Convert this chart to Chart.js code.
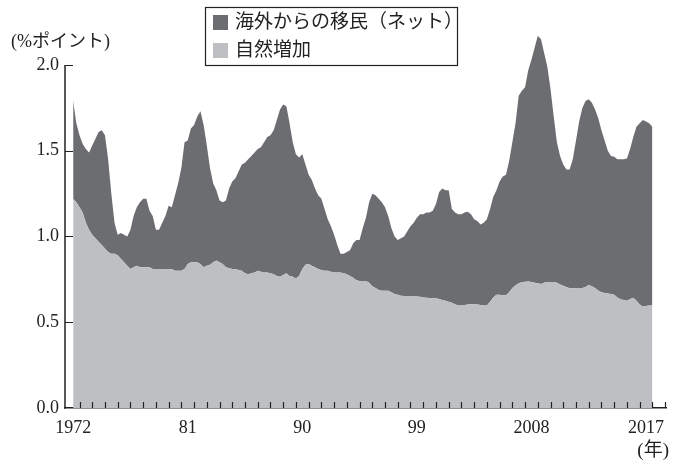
<!DOCTYPE html>
<html>
<head>
<meta charset="utf-8">
<script src="https://cdn.jsdelivr.net/npm/chart.js@4/dist/chart.umd.min.js"></script>
<style>
  html, body { margin: 0; background: #fff; }
  #wrap { width: 673px; height: 464px; position: relative; }
</style>
</head>
<body>
<div id="wrap"><canvas id="mycanvas"></canvas></div>
<script>
// quarterly, 1972 Q1 .. 2017 Q3 (% points)
var naturalIncrease = [
  1.22, 1.20, 1.17, 1.14,  1.08, 1.04, 1.01, 0.99,  0.97, 0.95, 0.93, 0.91,
  0.90, 0.90, 0.89, 0.87,  0.85, 0.83, 0.81, 0.82,  0.83, 0.82, 0.82, 0.82,
  0.82, 0.81, 0.81, 0.81,  0.81, 0.81, 0.81, 0.81,  0.80, 0.80, 0.80, 0.81,
  0.84, 0.85, 0.85, 0.85,  0.84, 0.82, 0.83, 0.835, 0.85, 0.86, 0.85, 0.84,
  0.82, 0.815, 0.81, 0.81, 0.805, 0.80, 0.785, 0.78, 0.785, 0.79, 0.80, 0.795,
  0.79, 0.79, 0.785, 0.78, 0.77, 0.765, 0.775, 0.785, 0.77, 0.765, 0.755, 0.77,
  0.81, 0.835, 0.84, 0.83, 0.82, 0.81, 0.805, 0.80, 0.80, 0.795, 0.79, 0.79,
  0.79, 0.785, 0.78, 0.77, 0.76, 0.745, 0.74, 0.74, 0.74, 0.73, 0.71, 0.70,
  0.69, 0.684, 0.684, 0.684, 0.675, 0.665, 0.66, 0.655, 0.653, 0.653, 0.653, 0.652,
  0.65, 0.648, 0.645, 0.643, 0.642, 0.64, 0.64, 0.635, 0.63, 0.626, 0.62, 0.614,
  0.605, 0.597, 0.598, 0.60, 0.603, 0.605, 0.606, 0.603, 0.60, 0.598, 0.597, 0.62,
  0.645, 0.66, 0.66, 0.658, 0.657, 0.675, 0.70, 0.715, 0.727, 0.733, 0.736, 0.737,
  0.735, 0.73, 0.727, 0.723, 0.73, 0.735, 0.735, 0.735, 0.73, 0.72, 0.713, 0.705,
  0.698, 0.698, 0.698, 0.70, 0.70, 0.705, 0.717, 0.71, 0.70, 0.685, 0.675, 0.67,
  0.668, 0.664, 0.66, 0.645, 0.634, 0.63, 0.626, 0.635, 0.643, 0.625, 0.605, 0.59,
  0.595, 0.597, 0.597
];
// natural increase + net overseas migration (top of the dark band)
var totalGrowth = [
  1.79, 1.66, 1.59, 1.54,  1.51, 1.49, 1.53, 1.57,  1.61, 1.62, 1.59, 1.45,
  1.25, 1.08, 1.01, 1.02,  1.01, 1.00, 1.04, 1.12,  1.17, 1.20, 1.22, 1.22,
  1.15, 1.12, 1.04, 1.04,  1.08, 1.12, 1.18, 1.17,  1.24, 1.31, 1.40, 1.55,
  1.56, 1.63, 1.65, 1.70,  1.73, 1.65, 1.53, 1.40,  1.31, 1.27, 1.21, 1.20,
  1.21, 1.28, 1.32, 1.34,  1.38, 1.42, 1.43, 1.45,  1.47, 1.49, 1.51, 1.52,
  1.55, 1.58, 1.59, 1.62,  1.68, 1.74, 1.77, 1.76,  1.66, 1.55, 1.48, 1.46,
  1.48, 1.42, 1.36, 1.33,  1.28, 1.24, 1.22, 1.16,  1.10, 1.06, 1.01, 0.95,
  0.90, 0.90, 0.91, 0.92,  0.96, 0.98, 0.98, 1.05,  1.11, 1.20, 1.25, 1.24,
  1.22, 1.20, 1.17, 1.12,  1.05, 1.00, 0.98, 0.99,  1.00, 1.03, 1.06, 1.08,
  1.11, 1.13, 1.13, 1.14,  1.14, 1.15, 1.19, 1.26,  1.28, 1.27, 1.27, 1.16,
  1.14, 1.13, 1.13, 1.14,  1.145, 1.13, 1.10, 1.09, 1.07, 1.08, 1.10, 1.16,
  1.23, 1.27, 1.32, 1.35,  1.36, 1.44, 1.55, 1.66,  1.82, 1.85, 1.87, 1.97,
  2.03, 2.10, 2.17, 2.15,  2.07, 1.99, 1.86, 1.70,  1.55, 1.47, 1.42, 1.39,
  1.39, 1.45, 1.56, 1.67,  1.75, 1.79, 1.80, 1.78,  1.74, 1.69, 1.62, 1.56,
  1.50, 1.47, 1.465, 1.45, 1.45, 1.45, 1.455, 1.51, 1.58, 1.64, 1.66, 1.68,
  1.67, 1.66, 1.64
];
var tickYears = [1972, 1981, 1990, 1999, 2008, 2017];
var tickLabels = ['1972', '81', '90', '99', '2008', '2017'];
var yTicks = [0, 0.5, 1.0, 1.5, 2.0];
var seriesNames = ['自然増加', '海外からの移民（ネット）'];
var seriesColors = ['#bebfc3', '#6c6d71'];

var quarterYears = [];
for (var i = 0; i < naturalIncrease.length; i++) {
  quarterYears.push(1972 + i / 4);
}

var serif = "'Liberation Serif', 'Noto Sans CJK JP', serif";
var ink = '#222';

// y axis line (only up to 2.0), inward ticks, unit labels and the boxed legend
var decor = {
  id: 'decor',
  afterDraw: function(chart) {
    var ctx = chart.ctx;
    var xs = chart.scales.x, ys = chart.scales.y;
    var area = chart.chartArea;
    var top = ys.getPixelForValue(yTicks[yTicks.length - 1]);
    ctx.save();
    ctx.strokeStyle = ink;
    ctx.lineWidth = 1.5;
    ctx.beginPath();
    ctx.moveTo(area.left, area.bottom + 0.75);
    ctx.lineTo(area.left, top);
    ctx.stroke();

    ctx.lineWidth = 1.2;
    ctx.beginPath();
    for (var yr = 1972.5; yr <= xs.max; yr += 1) {
      var px = Math.round(xs.getPixelForValue(yr)) + 0.5;
      ctx.moveTo(px, area.bottom);
      ctx.lineTo(px, area.bottom - 6);
    }
    yTicks.forEach(function(v) {
      if (v === 0) return;
      var py = Math.round(ys.getPixelForValue(v)) + 0.5;
      ctx.moveTo(area.left, py);
      ctx.lineTo(area.left + 8, py);
    });
    ctx.stroke();

    ctx.fillStyle = ink;
    ctx.font = '18px ' + serif;
    ctx.textBaseline = 'middle';
    ctx.textAlign = 'left';
    ctx.fillText('(%ポイント)', 11, 42);
    ctx.textAlign = 'right';
    ctx.font = '19px ' + serif;
    ctx.fillText('(年)', 669, 451);

    // legend
    ctx.lineWidth = 1.2;
    ctx.strokeRect(205.5, 7.5, 252, 58);
    ctx.textAlign = 'left';
    ctx.font = '19px ' + serif;
    var order = [1, 0];
    order.forEach(function(idx, row) {
      var ds = chart.data.datasets[idx];
      var cy = 22 + row * 28;
      ctx.fillStyle = ds.backgroundColor;
      ctx.fillRect(213, cy - 7, 15, 15);
      ctx.fillStyle = ink;
      ctx.fillText(ds.label, 235, cy + 1);
    });
    ctx.restore();
  }
};

var ctx = document.getElementById('mycanvas');
var chart = new Chart(ctx, {
  type: 'line',
  data: {
    labels: quarterYears,
    datasets: [
      {
        label: seriesNames[0],
        data: naturalIncrease,
        backgroundColor: seriesColors[0],
        borderWidth: 0,
        pointRadius: 0,
        fill: 'origin'
      },
      {
        label: seriesNames[1],
        data: totalGrowth,
        backgroundColor: seriesColors[1],
        borderWidth: 0,
        pointRadius: 0,
        fill: '-1'
      }
    ]
  },
  options: {
    responsive: true,
    maintainAspectRatio: false,
    animation: false,
    events: [],
    layout: { padding: { top: 30.7, left: 0, right: 0, bottom: 0 } },
    plugins: {
      legend: { display: false },
      tooltip: { enabled: false }
    },
    scales: {
      x: {
        type: 'linear',
        min: 1971.36,
        max: 2018.6,
        afterFit: function(scale) { scale.height = 56; },
        afterBuildTicks: function(scale) {
          scale.ticks = tickYears.map(function(v) { return { value: v }; });
        },
        grid: { display: false, drawTicks: false },
        border: { display: true, color: ink, width: 1.5 },
        ticks: {
          autoSkip: false,
          maxRotation: 0,
          padding: 9,
          color: ink,
          font: { family: serif, size: 18 },
          callback: function(value, index) { return tickLabels[index]; }
        }
      },
      y: {
        min: 0,
        max: 2.2,
        afterFit: function(scale) { scale.width = 65; },
        afterBuildTicks: function(scale) {
          scale.ticks = yTicks.map(function(v) { return { value: v }; });
        },
        grid: { display: false, drawTicks: false },
        border: { display: false },
        ticks: {
          padding: 6,
          color: ink,
          font: { family: serif, size: 18 },
          callback: function(value) { return value.toFixed(1); }
        }
      }
    }
  },
  plugins: [decor]
});
</script>
</body>
</html>
